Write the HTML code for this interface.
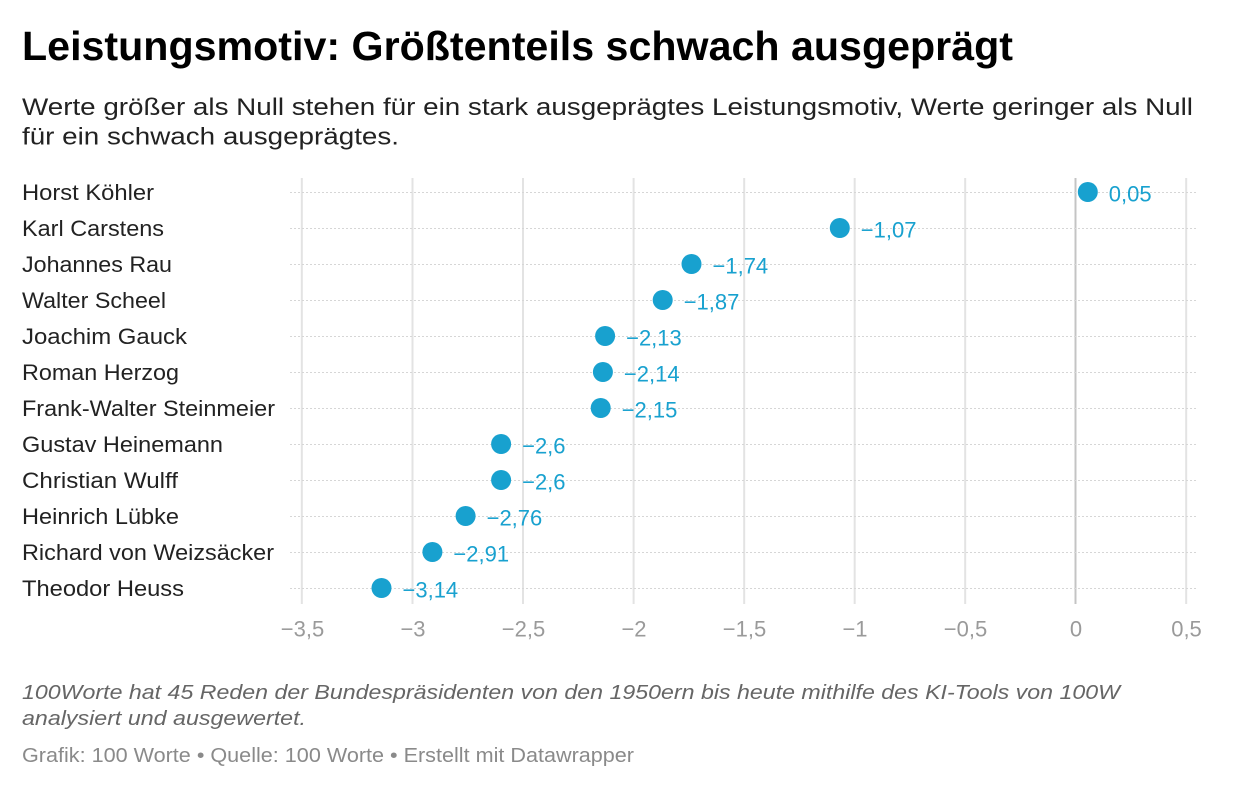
<!DOCTYPE html>
<html>
<head>
<meta charset="utf-8">
<style>
  html, body { margin: 0; padding: 0; background: #ffffff; }
  body { width: 1240px; height: 790px; overflow: hidden; }
  svg { display: block; }
  text { font-family: "Liberation Sans", "DejaVu Sans", sans-serif; }
</style>
</head>
<body>
<svg width="1240" height="790" viewBox="0 0 1240 790" xmlns="http://www.w3.org/2000/svg">
  <!-- Title -->
  <text x="22" y="60" font-size="41" font-weight="bold" fill="#000" textLength="991" lengthAdjust="spacingAndGlyphs">Leistungsmotiv: Größtenteils schwach ausgeprägt</text>
  <!-- Subtitle -->
  <text x="22" y="115" font-size="24" fill="#222" textLength="1171" lengthAdjust="spacingAndGlyphs">Werte größer als Null stehen für ein stark ausgeprägtes Leistungsmotiv, Werte geringer als Null</text>
  <text x="22" y="144.5" font-size="24" fill="#222" textLength="377" lengthAdjust="spacingAndGlyphs">für ein schwach ausgeprägtes.</text>

  <!-- Vertical grid lines -->
  <g stroke="#e3e3e3" stroke-width="2">
    <line x1="301.8" y1="178" x2="301.8" y2="604"/>
    <line x1="412.5" y1="178" x2="412.5" y2="604"/>
    <line x1="523" y1="178" x2="523" y2="604"/>
    <line x1="633.6" y1="178" x2="633.6" y2="604"/>
    <line x1="744.2" y1="178" x2="744.2" y2="604"/>
    <line x1="854.7" y1="178" x2="854.7" y2="604"/>
    <line x1="965.2" y1="178" x2="965.2" y2="604"/>
    <line x1="1186.2" y1="178" x2="1186.2" y2="604"/>
  </g>
  <line x1="1075.5" y1="178" x2="1075.5" y2="604" stroke="#c4c4c4" stroke-width="2"/>

  <!-- Horizontal dotted row lines -->
  <g stroke="#d6d6d6" stroke-width="1" stroke-dasharray="2 2">
    <line x1="290" y1="192.5" x2="1197" y2="192.5"/>
    <line x1="290" y1="228.5" x2="1197" y2="228.5"/>
    <line x1="290" y1="264.5" x2="1197" y2="264.5"/>
    <line x1="290" y1="300.5" x2="1197" y2="300.5"/>
    <line x1="290" y1="336.5" x2="1197" y2="336.5"/>
    <line x1="290" y1="372.5" x2="1197" y2="372.5"/>
    <line x1="290" y1="408.5" x2="1197" y2="408.5"/>
    <line x1="290" y1="444.5" x2="1197" y2="444.5"/>
    <line x1="290" y1="480.5" x2="1197" y2="480.5"/>
    <line x1="290" y1="516.5" x2="1197" y2="516.5"/>
    <line x1="290" y1="552.5" x2="1197" y2="552.5"/>
    <line x1="290" y1="588.5" x2="1197" y2="588.5"/>
  </g>

  <!-- Names -->
  <g font-size="22" fill="#222">
    <text x="22" y="200" textLength="132" lengthAdjust="spacingAndGlyphs">Horst Köhler</text>
    <text x="22" y="236" textLength="142" lengthAdjust="spacingAndGlyphs">Karl Carstens</text>
    <text x="22" y="272" textLength="150" lengthAdjust="spacingAndGlyphs">Johannes Rau</text>
    <text x="22" y="308" textLength="144" lengthAdjust="spacingAndGlyphs">Walter Scheel</text>
    <text x="22" y="344" textLength="165" lengthAdjust="spacingAndGlyphs">Joachim Gauck</text>
    <text x="22" y="380" textLength="157" lengthAdjust="spacingAndGlyphs">Roman Herzog</text>
    <text x="22" y="416" textLength="253" lengthAdjust="spacingAndGlyphs">Frank-Walter Steinmeier</text>
    <text x="22" y="452" textLength="201" lengthAdjust="spacingAndGlyphs">Gustav Heinemann</text>
    <text x="22" y="488" textLength="156" lengthAdjust="spacingAndGlyphs">Christian Wulff</text>
    <text x="22" y="524" textLength="157" lengthAdjust="spacingAndGlyphs">Heinrich Lübke</text>
    <text x="22" y="560" textLength="252" lengthAdjust="spacingAndGlyphs">Richard von Weizsäcker</text>
    <text x="22" y="596" textLength="162" lengthAdjust="spacingAndGlyphs">Theodor Heuss</text>
  </g>

  <!-- Dots -->
  <g fill="#18a1cf">
    <circle cx="1087.8" cy="192" r="10"/>
    <circle cx="839.8" cy="228" r="10"/>
    <circle cx="691.5" cy="264" r="10"/>
    <circle cx="662.7" cy="300" r="10"/>
    <circle cx="605.1" cy="336" r="10"/>
    <circle cx="602.9" cy="372" r="10"/>
    <circle cx="600.7" cy="408" r="10"/>
    <circle cx="501.1" cy="444" r="10"/>
    <circle cx="501.1" cy="480" r="10"/>
    <circle cx="465.6" cy="516" r="10"/>
    <circle cx="432.4" cy="552" r="10"/>
    <circle cx="381.5" cy="588" r="10"/>
  </g>

  <!-- Value labels -->
  <g font-size="22" fill="#18a1cf">
    <text x="1108.8" y="201.5">0,05</text>
    <text x="860.8" y="237.5">−1,07</text>
    <text x="712.5" y="273.5">−1,74</text>
    <text x="683.7" y="309.5">−1,87</text>
    <text x="626.1" y="345.5">−2,13</text>
    <text x="623.9" y="381.5">−2,14</text>
    <text x="621.7" y="417.5">−2,15</text>
    <text x="522.1" y="453.5">−2,6</text>
    <text x="522.1" y="489.5">−2,6</text>
    <text x="486.6" y="525.5">−2,76</text>
    <text x="453.4" y="561.5">−2,91</text>
    <text x="402.5" y="597.5">−3,14</text>
  </g>

  <!-- Axis labels -->
  <g font-size="22" fill="#9a9a9a" text-anchor="middle">
    <text x="302.5" y="636.5">−3,5</text>
    <text x="413" y="636.5">−3</text>
    <text x="523.5" y="636.5">−2,5</text>
    <text x="634" y="636.5">−2</text>
    <text x="744.5" y="636.5">−1,5</text>
    <text x="855" y="636.5">−1</text>
    <text x="965.5" y="636.5">−0,5</text>
    <text x="1076" y="636.5">0</text>
    <text x="1186.5" y="636.5">0,5</text>
  </g>

  <!-- Notes -->
  <g font-size="20" font-style="italic" fill="#666">
    <text x="22" y="699" textLength="1098" lengthAdjust="spacingAndGlyphs">100Worte hat 45 Reden der Bundespräsidenten von den 1950ern bis heute mithilfe des KI-Tools von 100W</text>
    <text x="22" y="725" textLength="284" lengthAdjust="spacingAndGlyphs">analysiert und ausgewertet.</text>
  </g>
  <text x="22" y="762" font-size="20" fill="#8a8a8a" textLength="612" lengthAdjust="spacingAndGlyphs">Grafik: 100 Worte • Quelle: 100 Worte • Erstellt mit Datawrapper</text>
</svg>
</body>
</html>
